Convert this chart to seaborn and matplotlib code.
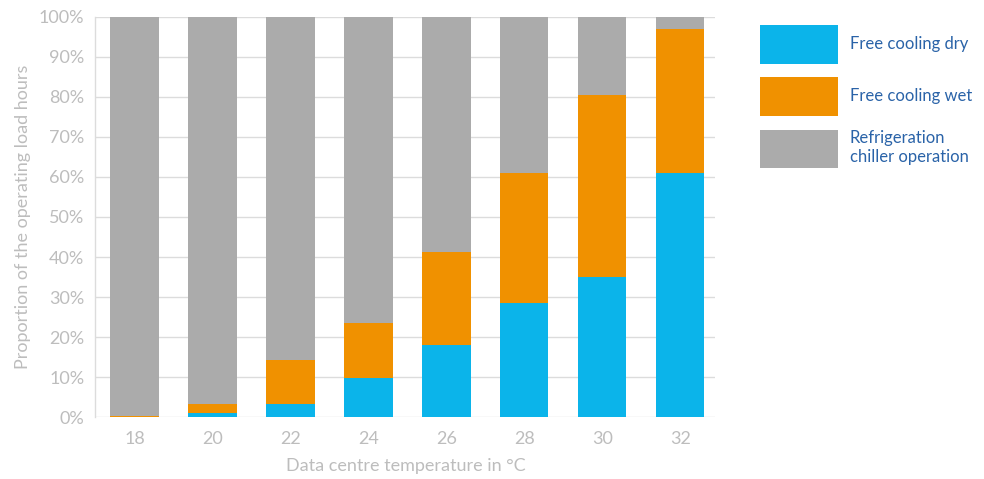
import matplotlib
import numpy as np
import pandas as pd
import seaborn as sns

matplotlib.use("Agg")
import matplotlib.pyplot as plt
from matplotlib.patches import Patch

# Datos (porcentaje de horas de carga)
temperatures = ["18", "20", "22", "24", "26", "28", "30", "32"]
free_cooling_dry = [0.0, 1.0, 3.2, 9.7, 18.0, 28.5, 35.0, 61.0]
free_cooling_wet = [0.3, 2.2, 11.0, 13.8, 23.3, 32.5, 45.5, 36.0]
refrigeration = [100 - d - w for d, w in zip(free_cooling_dry, free_cooling_wet)]

series_labels = ["Free cooling dry", "Free cooling wet", "Refrigeration\nchiller operation"]
colors = ["#0BB4EA", "#F09100", "#ABABAB"]

TEXT_GREY = "#BDBDBD"
GRID_GREY = "#DCDCDC"
LEGEND_BLUE = "#2A63A8"


def main() -> None:
    sns.set_theme(style="white")
    plt.rcParams["font.family"] = ["Lato", "DejaVu Sans"]

    df = pd.DataFrame(
        {
            "temp": temperatures,
            "dry": free_cooling_dry,
            "wet": free_cooling_wet,
            "ref": refrigeration,
        }
    )
    df["wet_top"] = df["dry"] + df["wet"]
    df["ref_top"] = df["wet_top"] + df["ref"]

    fig = plt.figure(figsize=(9.84, 4.79), dpi=100)
    ax = fig.add_axes([0.097, 0.129, 0.630, 0.836])

    # barras apiladas: se dibuja el total y se superponen los tramos inferiores
    for col, color in zip(["ref_top", "wet_top", "dry"], colors[::-1]):
        sns.barplot(data=df, x="temp", y=col, color=color, width=0.62,
                    saturation=1, ax=ax, zorder=2, linewidth=0)

    ax.set_ylim(0, 100)
    ax.set_xlim(-0.5, 7.45)
    ax.set_yticks(np.arange(0, 101, 10))
    ax.set_yticklabels([f"{v}%" for v in range(0, 101, 10)])
    ax.yaxis.grid(True, color=GRID_GREY, linewidth=1, zorder=0)
    ax.set_axisbelow(True)

    for side in ["top", "right", "bottom"]:
        ax.spines[side].set_visible(False)
    ax.spines["left"].set_color(GRID_GREY)
    ax.spines["left"].set_linewidth(1)

    ax.tick_params(axis="both", length=0, colors=TEXT_GREY, labelsize=13)
    ax.tick_params(axis="x", pad=10)
    ax.tick_params(axis="y", pad=8)

    ax.set_xlabel("Data centre temperature in °C", color=TEXT_GREY, fontsize=13, labelpad=8)
    ax.set_ylabel("Proportion of the operating load hours", color=TEXT_GREY, fontsize=13, labelpad=6)

    handles = [Patch(facecolor=c, edgecolor="none") for c in colors]
    leg = fig.legend(
        handles,
        series_labels,
        loc="upper left",
        bbox_to_anchor=(0.772, 0.948),
        frameon=False,
        fontsize=12,
        handlelength=4.7,
        handleheight=3.2,
        handletextpad=0.7,
        labelspacing=0.82,
        borderaxespad=0,
        borderpad=0,
    )
    for txt in leg.get_texts():
        txt.set_color(LEGEND_BLUE)

    fig.savefig("out.png", dpi=100)
    plt.close(fig)


if __name__ == "__main__":
    main()
